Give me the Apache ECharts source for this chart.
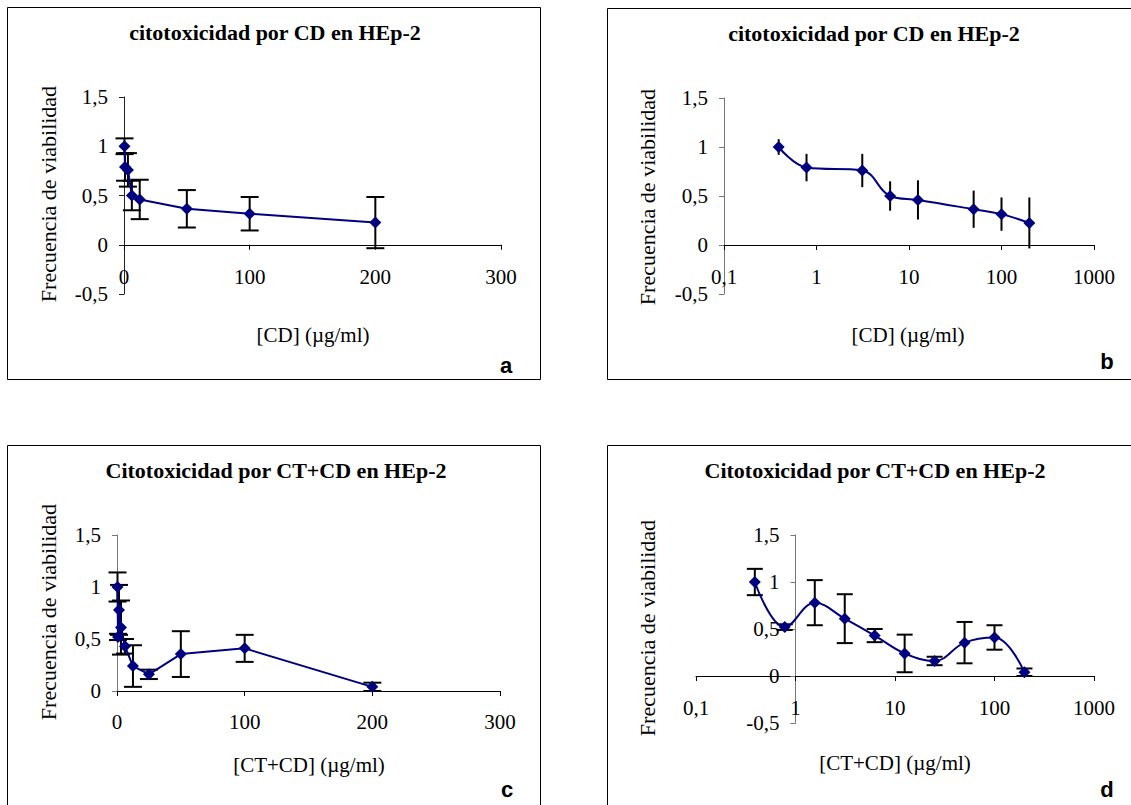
<!DOCTYPE html>
<html>
<head>
<meta charset="utf-8">
<script src="https://cdn.jsdelivr.net/npm/echarts@6/dist/echarts.min.js"></script>
<style>
html,body{margin:0;padding:0;background:#fff;}
#chart{width:1131px;height:805px;}
</style>
</head>
<body>
<div id="chart"></div>
<script>
// ---- Data ----
// CD alone (panels a, b)
const cdConc = [0.39, 0.78, 3.125, 6.25, 12.5, 50, 100, 200];
const cdViab = [1.0, 0.79, 0.76, 0.5, 0.46, 0.365, 0.315, 0.225];
const cdErr  = [0.08, 0.14, 0.17, 0.15, 0.2, 0.19, 0.17, 0.26];
// CT+CD (panels c, d)
const ctConc = [0.39, 0.78, 1.5625, 3.125, 6.25, 12.5, 25, 50, 100, 200];
const ctViab = [1.0, 0.52, 0.78, 0.61, 0.43, 0.24, 0.16, 0.355, 0.41, 0.04];
const ctErr  = [0.14, 0.03, 0.24, 0.26, 0.07, 0.2, 0.045, 0.22, 0.13, 0.04];
// Tick values
const linXTicks = [0, 100, 200, 300];
const logXTicks = [0.1, 1, 10, 100, 1000];
const yTicksFull = [-0.5, 0, 0.5, 1, 1.5];
const yTicksPos = [0, 0.5, 1, 1.5];
// Texts
const titleCD = 'citotoxicidad por CD en HEp-2';
const titleCT = 'Citotoxicidad por CT+CD en HEp-2';
const xNameCD = '[CD] (µg/ml)';
const xNameCT = '[CT+CD] (µg/ml)';
const yName = 'Frecuencia de viabilidad';
const panelLetters = ['a', 'b', 'c', 'd'];

// ---- Helpers ----
const SERIF = '"Liberation Serif", "Times New Roman", serif';
const SANS = '"Liberation Sans", Arial, sans-serif';
const fmt = v => String(v).replace('.', ',');
const zip = (xs, ys) => xs.map((x, i) => [x, ys[i]]);
const errData = (xs, ys, es) => xs.map((x, i) => [x, ys[i] - es[i], ys[i] + es[i]]);

function errRender(cap) {
  return function (params, api) {
    const x = api.value(0), lo = api.value(1), hi = api.value(2);
    const p1 = api.coord([x, lo]);
    const p2 = api.coord([x, hi]);
    const st = { stroke: '#000', lineWidth: 2 };
    const ch = [{ type: 'line', shape: { x1: p1[0], y1: p1[1], x2: p2[0], y2: p2[1] }, style: st }];
    if (cap > 0) {
      ch.push({ type: 'line', shape: { x1: p1[0] - cap, y1: p1[1], x2: p1[0] + cap, y2: p1[1] }, style: st });
      ch.push({ type: 'line', shape: { x1: p2[0] - cap, y1: p2[1], x2: p2[0] + cap, y2: p2[1] }, style: st });
    }
    return { type: 'group', children: ch };
  };
}

function linX(gi, margin) {
  return {
    gridIndex: gi, type: 'value',
    min: linXTicks[0], max: linXTicks[linXTicks.length - 1], interval: linXTicks[1] - linXTicks[0],
    axisLine: { lineStyle: { color: '#000', width: 1 } },
    axisTick: { length: 5, lineStyle: { color: '#000' } },
    axisLabel: { color: '#000', fontSize: 21, fontFamily: SERIF, margin: margin, formatter: fmt },
    splitLine: { show: false }
  };
}
function logX(gi, margin) {
  return {
    gridIndex: gi, type: 'log', logBase: 10,
    min: logXTicks[0], max: logXTicks[logXTicks.length - 1],
    axisLine: { lineStyle: { color: '#000', width: 1 } },
    axisTick: { length: 5, lineStyle: { color: '#000' } },
    minorTick: { show: false },
    axisLabel: { color: '#000', fontSize: 21, fontFamily: SERIF, margin: margin, formatter: fmt },
    splitLine: { show: false }
  };
}
function yAx(gi, ticks, color, offset) {
  return {
    gridIndex: gi, type: 'value', offset: offset || 0,
    min: ticks[0], max: ticks[ticks.length - 1], interval: ticks[1] - ticks[0],
    axisLine: { show: true, onZero: false, lineStyle: { color: color, width: 1 } },
    axisTick: { show: true, length: 5, lineStyle: { color: color } },
    axisLabel: { color: '#000', fontSize: 21, fontFamily: SERIF, margin: 16, formatter: fmt },
    splitLine: { show: false }
  };
}
function lineSeries(i, xs, ys, smooth) {
  return {
    type: 'line', xAxisIndex: i, yAxisIndex: i, data: zip(xs, ys),
    smooth: smooth, symbol: 'diamond', symbolSize: 12,
    lineStyle: { color: '#000080', width: 2 }, itemStyle: { color: '#000080' },
    z: 3, animation: false
  };
}
function errSeries(i, xs, ys, es, cap) {
  return {
    type: 'custom', xAxisIndex: i, yAxisIndex: i, data: errData(xs, ys, es),
    encode: { x: 0, y: [1, 2] }, renderItem: errRender(cap), z: 2, animation: false
  };
}
function txt(t, x, y, size, weight, family, rot) {
  return {
    type: 'text', x: x, y: y, rotation: rot || 0, z: 10,
    style: { text: t, fill: '#000', fontSize: size, fontWeight: weight, fontFamily: family,
             textAlign: 'center', textVerticalAlign: 'middle' }
  };
}
function box(x, y, w, h) {
  return { type: 'rect', shape: { x: x, y: y, width: w, height: h }, z: 0,
           style: { fill: 'none', stroke: '#000', lineWidth: 1 } };
}

const grids = [
  { left: 124, top: 97, width: 377, height: 197 },
  { left: 724, top: 98, width: 370, height: 196 },
  { left: 117, top: 535, width: 383, height: 156 },
  { left: 696, top: 535, width: 398, height: 188 }
];

const option = {
  animation: false,
  backgroundColor: '#fff',
  textStyle: { fontFamily: SERIF },
  grid: grids,
  xAxis: [linX(0, -28), logX(1, -28), linX(2, 20), logX(3, -26)],
  yAxis: [
    yAx(0, yTicksFull, '#222'),
    yAx(1, yTicksFull, '#777'),
    yAx(2, yTicksPos, '#777'),
    yAx(3, yTicksFull, '#777', -grids[3].width / 4)
  ],
  series: [
    errSeries(0, cdConc, cdViab, cdErr, 9),
    lineSeries(0, cdConc, cdViab, false),
    errSeries(1, cdConc, cdViab, cdErr, 0),
    lineSeries(1, cdConc, cdViab, 0.4),
    errSeries(2, ctConc, ctViab, ctErr, 9),
    lineSeries(2, ctConc, ctViab, false),
    errSeries(3, ctConc, ctViab, ctErr, 8),
    lineSeries(3, ctConc, ctViab, 0.4)
  ],
  graphic: [
    box(7.5, 7.5, 533, 372),
    box(607.5, 8.5, 600, 371),
    box(7.5, 445.5, 533, 420),
    box(607.5, 445.5, 600, 420),
    txt(titleCD, 275, 32, 22, 'bold', SERIF),
    txt(titleCD, 874, 33, 22, 'bold', SERIF),
    txt(titleCT, 276, 470, 22, 'bold', SERIF),
    txt(titleCT, 875, 470, 22, 'bold', SERIF),
    txt(xNameCD, 313, 335, 21, 'normal', SERIF),
    txt(xNameCD, 908, 335, 21, 'normal', SERIF),
    txt(xNameCT, 309, 765, 21, 'normal', SERIF),
    txt(xNameCT, 895, 763, 21, 'normal', SERIF),
    txt(yName, 48, 194, 22, 'normal', SERIF, Math.PI / 2),
    txt(yName, 647, 197, 22, 'normal', SERIF, Math.PI / 2),
    txt(yName, 48, 612, 22, 'normal', SERIF, Math.PI / 2),
    txt(yName, 647, 628, 22, 'normal', SERIF, Math.PI / 2),
    txt(panelLetters[0], 506, 365, 22, 'bold', SANS),
    txt(panelLetters[1], 1107, 361, 22, 'bold', SANS),
    txt(panelLetters[2], 507, 789, 22, 'bold', SANS),
    txt(panelLetters[3], 1107, 789, 22, 'bold', SANS)
  ]
};

const chart = echarts.init(document.getElementById('chart'), null, { renderer: 'svg' });
chart.setOption(option);
</script>
</body>
</html>
